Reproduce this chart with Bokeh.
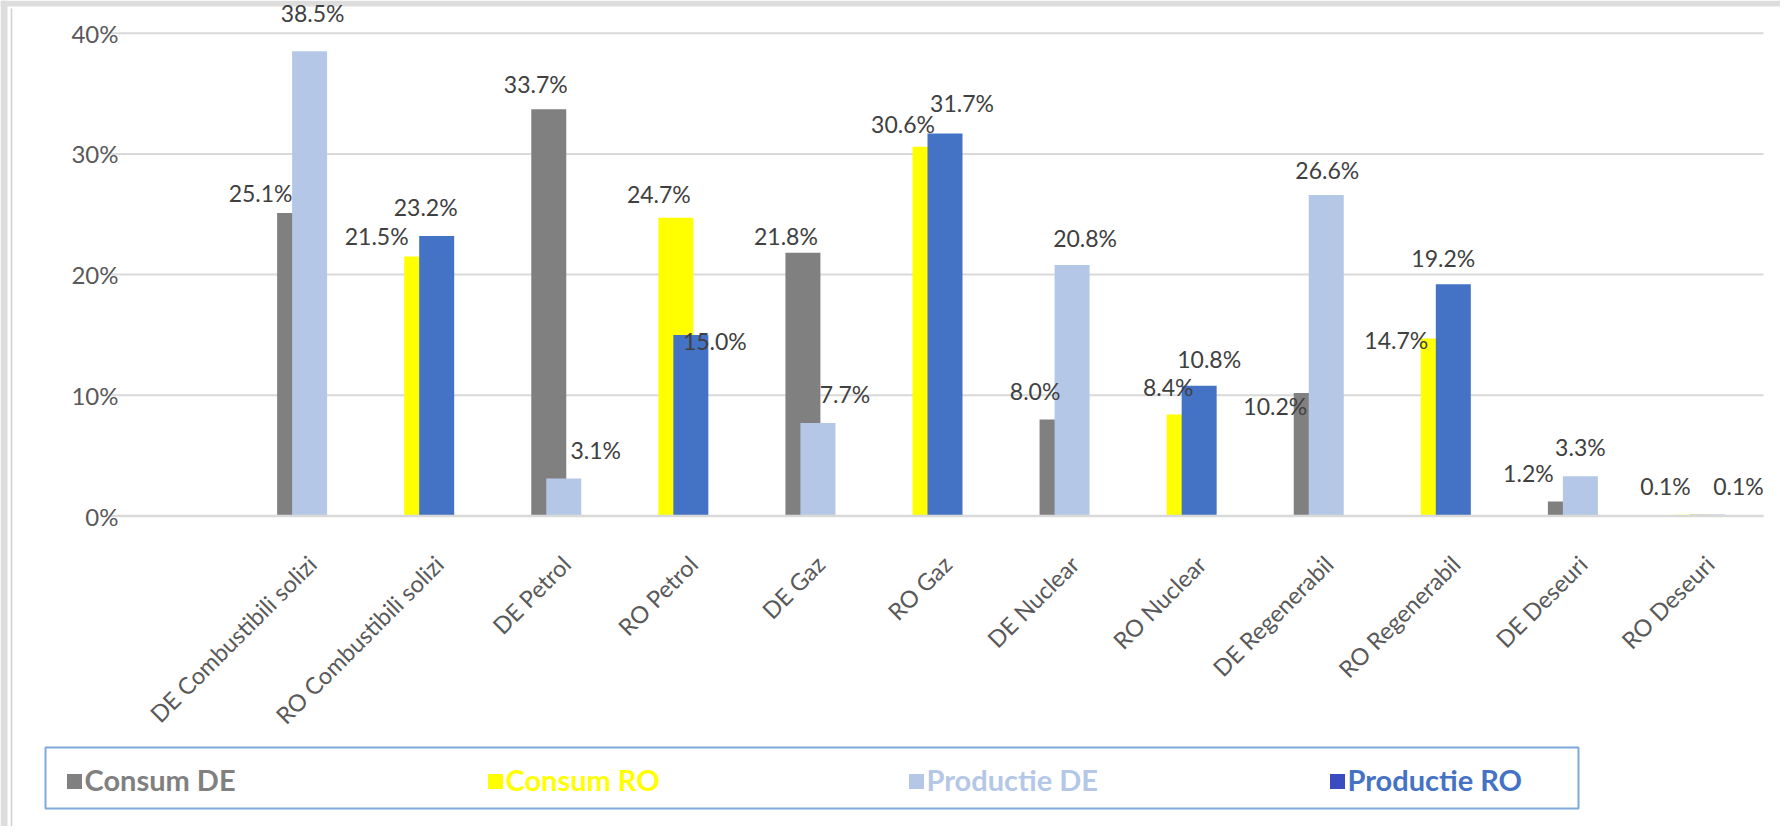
import math
from bokeh.plotting import figure
from bokeh.models import ColumnDataSource, Range1d
from bokeh.transform import dodge
from bokeh.core.properties import value
from bokeh.embed import file_html
from bokeh.resources import INLINE

# ---------------- data ----------------
categories = ["DE Combustibili solizi", "RO Combustibili solizi", "DE Petrol", "RO Petrol",
              "DE Gaz", "RO Gaz", "DE Nuclear", "RO Nuclear",
              "DE Regenerabil", "RO Regenerabil", "DE Deseuri", "RO Deseuri"]
consum = [25.1, 21.5, 33.7, 24.7, 21.8, 30.6, 8.0, 8.4, 10.2, 14.7, 1.2, 0.1]
productie = [38.5, 23.2, 3.1, 15.0, 7.7, 31.7, 20.8, 10.8, 26.6, 19.2, 3.3, 0.1]
y_ticks = [0, 10, 20, 30, 40]
legend_labels = ["Consum DE", "Consum RO", "Productie DE", "Productie RO"]

# ---------------- style / layout ----------------
GRAY, YELLOW, LIGHTBLUE, BLUE = "#808080", "#ffff00", "#b4c7e7", "#4472c4"
FONT = "Lato"
legend_colors = [GRAY, YELLOW, LIGHTBLUE, BLUE]
legend_square_colors = [GRAY, YELLOW, LIGHTBLUE, "#3b4cc0"]

# label offsets (pixels) relative to bar top centre
c_dx = [-34, -45, -13, -17, -17, -27, -22, -16, -36, -42, -37, -27]
c_dy = [-20, -20, -25, -24, -17, -23, -28, -28, 13, 1, -29, -29]
p_dx = [3, -11, 32, 24, 27, 17, 13, 10, 1, -10, 0, 31]
p_dy = [-38, -29, -29, 6, -29, -30, -27, -27, -25, -26, -29, -29]

W, H = 1780, 826
PLOT_L, PLOT_R = 111, 1763          # plot area (pixels)
NSLOT = 13                            # one empty slot before the first category
SLOT = (PLOT_R - PLOT_L) / NSLOT
ZERO_Y, PX_PER_PCT = 515.5, 12.07


def X(px):
    return (px - PLOT_L) / SLOT - 0.5


def Y(py):
    return (ZERO_Y - py) / PX_PER_PCT


xs = [i + 1 for i in range(len(categories))]
is_de = [c.startswith("DE") for c in categories]
src = ColumnDataSource(dict(
    x=xs, zero=[0] * len(xs), cat=categories, consum=consum, productie=productie,
    c_color=[GRAY if d else YELLOW for d in is_de],
    p_color=[LIGHTBLUE if d else BLUE for d in is_de],
    c_lbl=["%.1f%%" % v for v in consum],
    p_lbl=["%.1f%%" % v for v in productie],
    c_dx=c_dx, c_dy=c_dy, p_dx=p_dx, p_dy=p_dy,
))

BAR_W = 35 / SLOT
OFF = 7.5 / SLOT

p = figure(width=W, height=H, x_range=Range1d(X(0), X(W)), y_range=Range1d(Y(H), Y(0)),
           x_axis_location=None, y_axis_location=None, title=None,
           output_backend="svg", toolbar_location=None, min_border=0)
p.outline_line_color = None
p.background_fill_color = "white"
p.border_fill_color = "white"
p.xgrid.visible = False
p.ygrid.visible = False

# window-like frame (gray bands at top/left)
p.quad(left=[X(0)], right=[X(W)], bottom=[Y(6)], top=[Y(0)], fill_color="#dcdddc", line_color=None)
p.quad(left=[X(0)], right=[X(7)], bottom=[Y(H)], top=[Y(0)], fill_color="#dcdddc", line_color=None)
p.segment(x0=[X(11)], y0=[Y(8)], x1=[X(11)], y1=[Y(H)], line_color="#d0d0d0", line_width=1.5)

# gridlines (value axis)
gsrc = ColumnDataSource(dict(y=y_ticks, x0=[X(PLOT_L)] * len(y_ticks), x1=[X(PLOT_R)] * len(y_ticks)))
p.segment(x0="x0", x1="x1", y0="y", y1="y", source=gsrc, line_color="#d9d9d9", line_width=2)

# bars
p.vbar(x=dodge("x", -OFF, range=p.x_range), top="consum", width=BAR_W, source=src,
       fill_color="c_color", line_color=None)
p.vbar(x=dodge("x", OFF, range=p.x_range), top="productie", width=BAR_W, source=src,
       fill_color="p_color", line_color=None)

# category axis line drawn over the bars
p.segment(x0=[X(PLOT_L)], x1=[X(PLOT_R)], y0=[0], y1=[0], line_color="#d9d9d9", line_width=2.6)

# data labels
p.text(x=dodge("x", -OFF, range=p.x_range), y="consum", text="c_lbl", source=src,
       x_offset="c_dx", y_offset="c_dy", text_align="center", text_baseline="middle",
       text_font=value(FONT), text_font_size="23px", text_color="#404040")
p.text(x=dodge("x", OFF, range=p.x_range), y="productie", text="p_lbl", source=src,
       x_offset="p_dx", y_offset="p_dy", text_align="center", text_baseline="middle",
       text_font=value(FONT), text_font_size="23px", text_color="#404040")

# y tick labels
ysrc = ColumnDataSource(dict(y=y_ticks, t=["%d%%" % v for v in y_ticks],
                             x=[X(86)] * len(y_ticks)))
p.text(x="x", y="y", text="t", source=ysrc, x_offset=32, text_align="right", text_baseline="middle",
       text_font=value(FONT), text_font_size="24px", text_color="#595959")

# category tick labels (rotated 45 degrees)
p.text(x="x", y="zero", text="cat", source=src, angle=math.pi / 4,
       x_offset=10, y_offset=44, text_align="right", text_baseline="middle",
       text_font=value(FONT), text_font_size="23.5px", text_color="#595959")

# legend box
p.quad(left=[X(45)], right=[X(1578)], bottom=[Y(808)], top=[Y(747)], fill_color=None,
       line_color="#7eaadc", line_width=2)
lx = [65 + 421 * k for k in range(len(legend_labels))]
lsrc = ColumnDataSource(dict(xs=[X(v + 9) for v in lx], xt=[X(v + 19) for v in lx],
                             ys=[Y(781)] * 4, yt=[Y(779)] * 4,
                             t=legend_labels, c=legend_colors, sc=legend_square_colors))
p.scatter(x="xs", y="ys", source=lsrc, marker="square", size=15,
          fill_color="sc", line_color=None)
p.text(x="xt", y="yt", text="t", source=lsrc, text_color="c",
       text_font=value(FONT), text_font_style="bold", text_font_size="29px",
       text_align="left", text_baseline="middle")

open("out.html", "w").write(file_html(p, INLINE))
